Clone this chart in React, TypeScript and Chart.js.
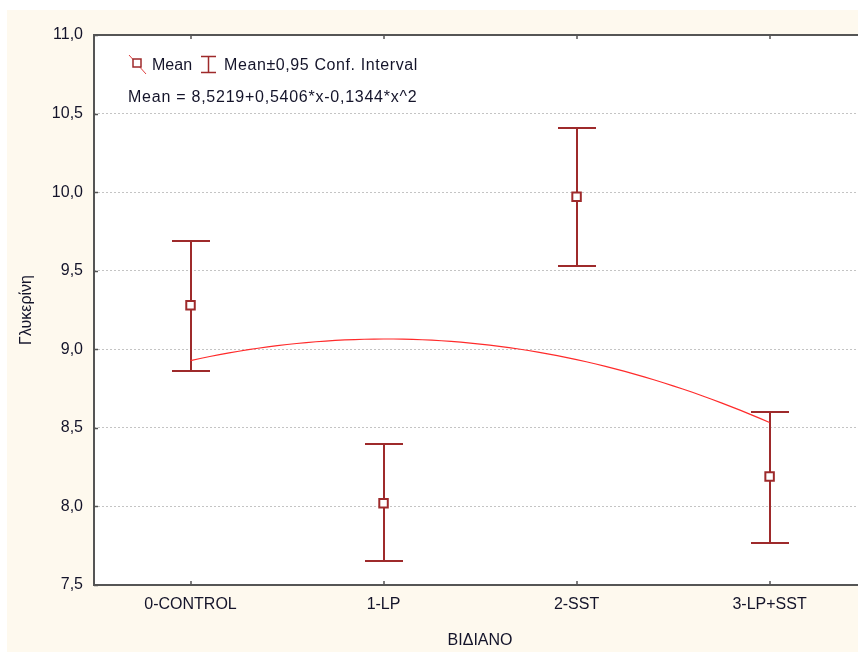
import React, { useEffect, useRef } from "react";
import { Chart, registerables } from "chart.js";

Chart.register(...registerables);

// Groups and their means with 95% confidence limits
const groups = ["0-CONTROL", "1-LP", "2-SST", "3-LP+SST"];
const means = [9.28, 8.02, 9.97, 8.19];
const ciLow = [8.86, 7.65, 9.53, 7.77];
const ciHigh = [9.69, 8.4, 10.41, 8.6];

// Quadratic fit: Mean = a + b*x + c*x^2, with x = group index + 1
const fitCoef = [8.5219, 0.5406, -0.1344];

const yTicks = [7.5, 8.0, 8.5, 9.0, 9.5, 10.0, 10.5, 11.0];

const xTitle = "ΒΙΔΙΑΝΟ";
const yTitle = "Γλυκερίνη";
const legendMean = "Mean";
const legendCI = "Mean±0,95 Conf. Interval";
const equationText = "Mean = 8,5219+0,5406*x-0,1344*x^2";

const INK = "#14142a";
const BAR = "#9e2a2b";
const CURVE = "#ff2b2b";
const AXIS = "#555555";
const FONT = "'Liberation Sans', Arial, sans-serif";

const fmt = (v: number) => v.toFixed(1).replace(".", ",");

// Fitted curve sampled across the group range
const fitPoints: { x: number; y: number }[] = [];
for (let k = 0; k <= 60; k++) {
  const t = (k / 60) * (groups.length - 1);
  const xv = t + 1;
  fitPoints.push({ x: t, y: fitCoef[0] + fitCoef[1] * xv + fitCoef[2] * xv * xv });
}

const decorPlugin = {
  id: "decor",
  beforeDraw(chart: any) {
    const { ctx, width, height, chartArea: a } = chart;
    ctx.save();
    ctx.fillStyle = "#fef9ee";
    ctx.fillRect(0, 0, width, height);
    ctx.fillStyle = "#ffffff";
    ctx.fillRect(a.left, a.top, width - a.left, a.bottom - a.top);
    ctx.restore();
  },
  beforeDatasetsDraw(chart: any) {
    const { ctx } = chart;
    const x = chart.scales.x;
    const y = chart.scales.y;
    ctx.save();
    ctx.strokeStyle = BAR;
    ctx.lineWidth = 2;
    groups.forEach((_, i) => {
      const px = Math.round(x.getPixelForValue(i));
      const top = Math.round(y.getPixelForValue(ciHigh[i]));
      const bot = Math.round(y.getPixelForValue(ciLow[i]));
      ctx.beginPath();
      ctx.moveTo(px, top);
      ctx.lineTo(px, bot);
      ctx.moveTo(px - 19, top);
      ctx.lineTo(px + 19, top);
      ctx.moveTo(px - 19, bot);
      ctx.lineTo(px + 19, bot);
      ctx.stroke();
    });
    ctx.restore();
  },
  afterDraw(chart: any) {
    const { ctx, chartArea: a, width } = chart;
    const x = chart.scales.x;
    const y = chart.scales.y;
    ctx.save();

    // frame
    ctx.strokeStyle = AXIS;
    ctx.lineWidth = 2;
    ctx.beginPath();
    ctx.moveTo(width, a.top);
    ctx.lineTo(a.left, a.top);
    ctx.lineTo(a.left, a.bottom);
    ctx.lineTo(width, a.bottom);
    ctx.stroke();

    // inward tick marks
    ctx.lineWidth = 1.5;
    ctx.beginPath();
    yTicks.forEach((v) => {
      const py = Math.round(y.getPixelForValue(v)) + 0.5;
      ctx.moveTo(a.left, py);
      ctx.lineTo(a.left + 4, py);
    });
    groups.forEach((_, i) => {
      const px = Math.round(x.getPixelForValue(i));
      ctx.moveTo(px, a.top);
      ctx.lineTo(px, a.top + 4);
      ctx.moveTo(px, a.bottom);
      ctx.lineTo(px, a.bottom - 4);
    });
    ctx.stroke();

    // legend: mean marker
    ctx.strokeStyle = "#e04040";
    ctx.lineWidth = 1;
    ctx.beginPath();
    ctx.moveTo(122, 45);
    ctx.lineTo(139, 64);
    ctx.stroke();
    ctx.fillStyle = "#ffffff";
    ctx.strokeStyle = BAR;
    ctx.lineWidth = 1.5;
    ctx.fillRect(126, 49, 8, 8);
    ctx.strokeRect(126, 49, 8, 8);

    // legend: interval marker
    ctx.lineWidth = 1.5;
    ctx.beginPath();
    ctx.moveTo(201.5, 46);
    ctx.lineTo(201.5, 63);
    ctx.moveTo(194, 46.5);
    ctx.lineTo(209, 46.5);
    ctx.moveTo(194, 62.5);
    ctx.lineTo(209, 62.5);
    ctx.stroke();

    ctx.fillStyle = INK;
    ctx.font = `16px ${FONT}`;
    ctx.textAlign = "left";
    ctx.textBaseline = "alphabetic";
    ctx.fillText(legendMean, 145, 60);
    (ctx as any).letterSpacing = "0.6px";
    ctx.fillText(legendCI, 217, 60);
    (ctx as any).letterSpacing = "0.75px";
    ctx.fillText(equationText, 121, 92);
    (ctx as any).letterSpacing = "0px";

    // axis titles
    ctx.textAlign = "center";
    ctx.textBaseline = "middle";
    const xMid = (x.getPixelForValue(-0.5) + x.getPixelForValue(groups.length - 0.5)) / 2;
    ctx.fillText(xTitle, xMid, 631);
    ctx.translate(20, (a.top + a.bottom) / 2);
    ctx.rotate(-Math.PI / 2);
    ctx.fillText(yTitle, 0, 0);

    ctx.restore();
  },
};

export default function App() {
  const canvasRef = useRef<HTMLCanvasElement | null>(null);

  useEffect(() => {
    const canvas = canvasRef.current;
    if (!canvas) return;
    const chart = new Chart(canvas, {
      type: "scatter",
      data: {
        datasets: [
          {
            label: "Mean",
            data: means.map((m, i) => ({ x: i, y: m })),
            pointStyle: "rect",
            pointRadius: 6,
            pointBackgroundColor: "#ffffff",
            pointBorderColor: BAR,
            pointBorderWidth: 2,
            showLine: false,
            order: 0,
          },
          {
            label: "Fit",
            data: fitPoints,
            showLine: true,
            borderColor: CURVE,
            borderWidth: 1.2,
            pointRadius: 0,
            fill: false,
            order: 1,
          },
        ],
      },
      options: {
        responsive: false,
        animation: false,
        layout: { autoPadding: false, padding: { top: 25, left: 0, right: 0, bottom: 0 } },
        plugins: {
          legend: { display: false },
          tooltip: { enabled: false },
          title: { display: false },
        },
        scales: {
          x: {
            type: "linear",
            min: -0.5,
            max: 3.458,
            afterBuildTicks: (scale: any) => {
              scale.ticks = groups.map((_, i) => ({ value: i }));
            },
            afterFit: (scale: any) => {
              scale.height = 67;
              scale.paddingLeft = 0;
              scale.paddingRight = 0;
            },
            ticks: {
              autoSkip: false,
              maxRotation: 0,
              padding: 10,
              color: INK,
              font: { family: FONT, size: 16 },
              callback: (v: any) => groups[v as number] ?? "",
            },
            grid: { display: false, drawTicks: false },
            border: { display: false },
          },
          y: {
            type: "linear",
            min: 7.5,
            max: 11,
            afterBuildTicks: (scale: any) => {
              scale.ticks = yTicks.map((v) => ({ value: v }));
            },
            afterFit: (scale: any) => {
              scale.width = 87;
              scale.paddingTop = 0;
              scale.paddingBottom = 0;
            },
            ticks: {
              padding: 11,
              color: INK,
              font: { family: FONT, size: 16 },
              callback: (v: any) => fmt(Number(v)),
            },
            grid: { color: "#c4c4c4", lineWidth: 1, drawTicks: false },
            border: { display: false, dash: [2, 2] },
          },
        },
      },
      plugins: [decorPlugin],
    } as any);
    return () => chart.destroy();
  }, []);

  return (
    <div style={{ position: "fixed", left: 7, top: 10, width: 851, height: 642 }}>
      <canvas ref={canvasRef} width={851} height={642} />
    </div>
  );
}
